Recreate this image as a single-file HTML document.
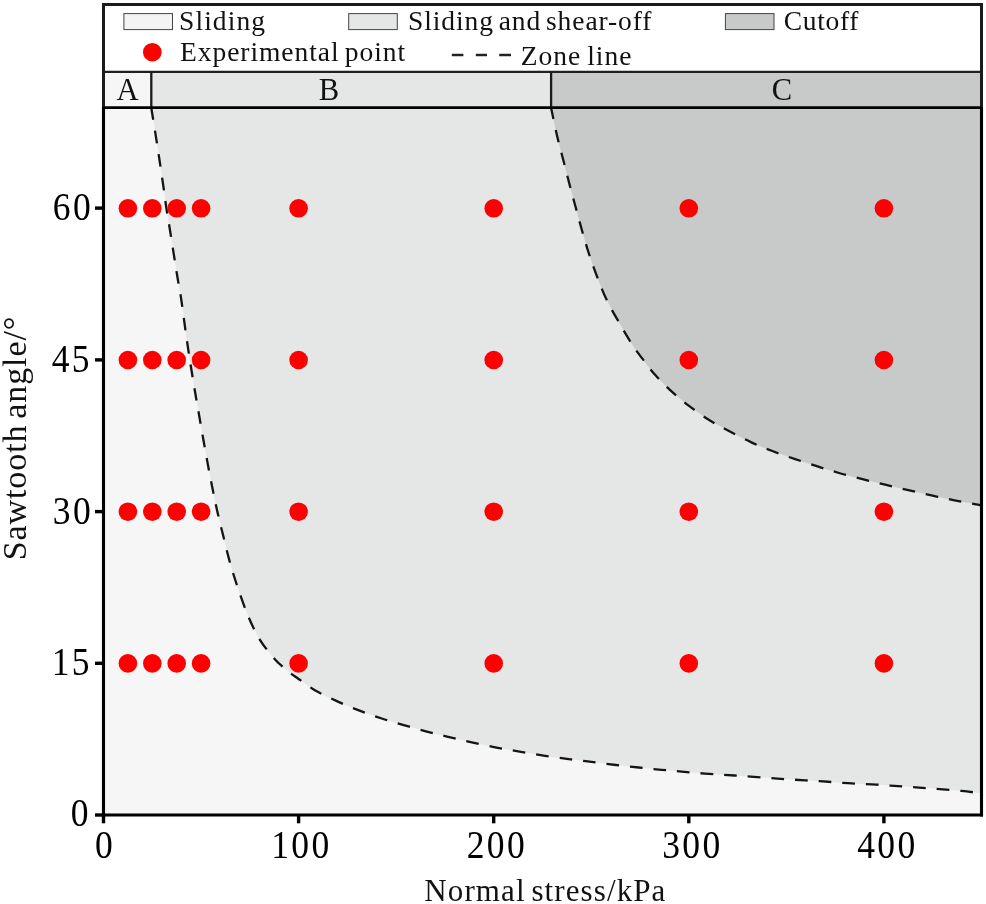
<!DOCTYPE html>
<html><head><meta charset="utf-8"><title>Shear failure mode zones</title>
<style>
html,body{margin:0;padding:0;background:#fff;}
body{width:986px;height:904px;overflow:hidden;}
svg{display:block;}
text{font-family:"Liberation Serif","Times New Roman",serif;fill:#111;}
.leg text{font-size:27.5px;letter-spacing:0.9px;}
.tick text{font-size:39.3px;letter-spacing:2.6px;fill:#000;}
</style></head><body>
<svg width="986" height="904" viewBox="0 0 986 904">
<rect x="0" y="0" width="986" height="904" fill="#fff"/>
<!-- zones -->
<rect x="103.5" y="71.5" width="878.0" height="743.5" fill="#f6f6f6"/>
<path d="M151.3,108.0 C152.3,114.0 155.0,130.8 157.1,144.2 C159.2,157.6 162.1,177.8 163.7,188.5 C165.2,199.2 165.3,201.0 166.4,208.4 C167.5,215.8 168.6,221.3 170.4,232.7 C172.2,244.1 175.6,265.9 177.4,277.0 C179.2,288.1 179.9,290.3 181.2,299.1 C182.5,307.9 184.0,319.7 185.4,329.8 C186.8,339.9 188.1,349.0 189.8,359.7 C191.5,370.4 193.6,383.5 195.4,394.0 C197.2,404.5 198.5,411.6 200.4,422.7 C202.3,433.8 205.1,449.5 207.1,460.4 C209.1,471.3 210.7,479.6 212.4,488.0 C214.1,496.4 215.4,503.1 217.2,511.0 C219.0,518.9 221.0,526.8 223.1,535.3 C225.2,543.8 227.3,553.0 229.8,561.9 C232.3,570.8 234.9,579.2 238.0,588.4 C241.1,597.6 245.0,608.7 248.6,617.2 C252.2,625.7 255.6,632.7 259.6,639.3 C263.7,645.9 268.8,652.2 272.9,657.0 C277.0,661.8 280.0,664.5 284.0,668.0 C288.0,671.5 291.8,674.1 297.0,677.8 C302.2,681.5 308.6,686.5 315.3,690.4 C322.0,694.3 330.0,698.0 337.4,701.4 C344.8,704.8 352.2,707.9 359.6,710.7 C367.0,713.6 374.3,716.1 381.7,718.5 C389.1,720.9 396.4,723.0 403.8,725.1 C411.2,727.2 418.7,729.4 425.9,731.3 C433.1,733.2 439.9,734.9 447.0,736.6 C454.1,738.3 460.6,740.0 468.4,741.7 C476.2,743.5 485.5,745.5 494.0,747.1 C502.5,748.8 511.0,750.1 519.5,751.6 C528.0,753.1 536.6,754.6 545.1,755.9 C553.6,757.2 562.6,758.3 570.6,759.3 C578.6,760.3 585.8,761.1 593.4,762.1 C601.0,763.1 608.5,764.1 616.1,765.0 C623.7,765.9 631.2,766.7 638.8,767.5 C646.4,768.3 653.9,769.1 661.5,769.8 C669.1,770.5 676.3,771.1 684.2,771.8 C692.1,772.5 700.6,773.3 709.0,773.9 C717.4,774.5 725.4,774.9 734.4,775.5 C743.4,776.1 753.3,776.8 762.8,777.5 C772.3,778.2 781.7,778.9 791.2,779.5 C800.7,780.1 810.1,780.6 819.6,781.2 C829.1,781.8 838.5,782.6 848.0,783.2 C857.5,783.8 866.9,784.0 876.4,784.6 C885.9,785.2 895.3,785.9 904.8,786.6 C914.3,787.3 923.7,787.9 933.2,788.6 C942.7,789.3 953.6,790.1 961.6,790.9 C969.6,791.7 978.2,793.0 981.5,793.4 L981.5,71.5 L151.5,71.5 Z" fill="#e5e7e6"/>
<path d="M551.0,107.5 C552.0,112.2 555.0,126.7 557.0,135.4 C559.0,144.1 561.1,151.6 563.2,159.7 C565.3,167.8 567.4,176.2 569.4,184.0 C571.4,191.8 573.3,198.4 575.4,206.2 C577.5,213.9 579.8,222.8 582.0,230.5 C584.2,238.2 586.2,245.3 588.6,252.7 C591.0,260.1 593.5,267.1 596.4,274.8 C599.3,282.5 602.6,291.2 606.3,299.1 C610.0,307.0 614.5,314.5 618.8,322.0 C623.1,329.5 628.2,338.2 632.0,344.2 C635.8,350.2 638.0,352.9 641.8,357.9 C645.6,362.9 649.7,368.8 654.6,374.3 C659.5,379.8 665.3,385.6 671.0,390.8 C676.7,396.0 682.4,400.8 688.7,405.6 C695.0,410.4 702.3,415.7 708.8,419.8 C715.3,423.9 720.6,426.5 727.5,430.2 C734.4,433.9 742.9,438.4 750.4,441.9 C757.9,445.4 764.9,448.2 772.3,451.0 C779.6,453.8 787.1,456.4 794.5,458.9 C801.9,461.4 809.4,463.8 816.8,466.2 C824.2,468.6 831.4,470.8 839.0,473.0 C846.6,475.2 854.8,477.2 862.5,479.2 C870.2,481.1 877.6,482.9 885.2,484.7 C892.8,486.5 900.6,488.3 908.3,490.1 C916.0,491.9 923.8,493.7 931.5,495.4 C939.2,497.1 947.1,498.8 954.5,500.3 C961.9,501.8 971.6,503.5 976.1,504.4 C980.6,505.2 980.6,505.2 981.5,505.4 L981.5,71.5 L551,71.5 Z" fill="#c8cac9"/>
<!-- legend bg -->
<rect x="103.5" y="4.5" width="878.0" height="67" fill="#fff"/>
<!-- zone curves -->
<g fill="none" stroke="#141414" stroke-width="2.3" stroke-dasharray="12.7 10.96">
<path d="M151.3,108.0 C152.3,114.0 155.0,130.8 157.1,144.2 C159.2,157.6 162.1,177.8 163.7,188.5 C165.2,199.2 165.3,201.0 166.4,208.4 C167.5,215.8 168.6,221.3 170.4,232.7 C172.2,244.1 175.6,265.9 177.4,277.0 C179.2,288.1 179.9,290.3 181.2,299.1 C182.5,307.9 184.0,319.7 185.4,329.8 C186.8,339.9 188.1,349.0 189.8,359.7 C191.5,370.4 193.6,383.5 195.4,394.0 C197.2,404.5 198.5,411.6 200.4,422.7 C202.3,433.8 205.1,449.5 207.1,460.4 C209.1,471.3 210.7,479.6 212.4,488.0 C214.1,496.4 215.4,503.1 217.2,511.0 C219.0,518.9 221.0,526.8 223.1,535.3 C225.2,543.8 227.3,553.0 229.8,561.9 C232.3,570.8 234.9,579.2 238.0,588.4 C241.1,597.6 245.0,608.7 248.6,617.2 C252.2,625.7 255.6,632.7 259.6,639.3 C263.7,645.9 268.8,652.2 272.9,657.0 C277.0,661.8 280.0,664.5 284.0,668.0 C288.0,671.5 291.8,674.1 297.0,677.8 C302.2,681.5 308.6,686.5 315.3,690.4 C322.0,694.3 330.0,698.0 337.4,701.4 C344.8,704.8 352.2,707.9 359.6,710.7 C367.0,713.6 374.3,716.1 381.7,718.5 C389.1,720.9 396.4,723.0 403.8,725.1 C411.2,727.2 418.7,729.4 425.9,731.3 C433.1,733.2 439.9,734.9 447.0,736.6 C454.1,738.3 460.6,740.0 468.4,741.7 C476.2,743.5 485.5,745.5 494.0,747.1 C502.5,748.8 511.0,750.1 519.5,751.6 C528.0,753.1 536.6,754.6 545.1,755.9 C553.6,757.2 562.6,758.3 570.6,759.3 C578.6,760.3 585.8,761.1 593.4,762.1 C601.0,763.1 608.5,764.1 616.1,765.0 C623.7,765.9 631.2,766.7 638.8,767.5 C646.4,768.3 653.9,769.1 661.5,769.8 C669.1,770.5 676.3,771.1 684.2,771.8 C692.1,772.5 700.6,773.3 709.0,773.9 C717.4,774.5 725.4,774.9 734.4,775.5 C743.4,776.1 753.3,776.8 762.8,777.5 C772.3,778.2 781.7,778.9 791.2,779.5 C800.7,780.1 810.1,780.6 819.6,781.2 C829.1,781.8 838.5,782.6 848.0,783.2 C857.5,783.8 866.9,784.0 876.4,784.6 C885.9,785.2 895.3,785.9 904.8,786.6 C914.3,787.3 923.7,787.9 933.2,788.6 C942.7,789.3 953.6,790.1 961.6,790.9 C969.6,791.7 978.2,793.0 981.5,793.4" stroke-dashoffset="0.6"/>
<path d="M551.0,107.5 C552.0,112.2 555.0,126.7 557.0,135.4 C559.0,144.1 561.1,151.6 563.2,159.7 C565.3,167.8 567.4,176.2 569.4,184.0 C571.4,191.8 573.3,198.4 575.4,206.2 C577.5,213.9 579.8,222.8 582.0,230.5 C584.2,238.2 586.2,245.3 588.6,252.7 C591.0,260.1 593.5,267.1 596.4,274.8 C599.3,282.5 602.6,291.2 606.3,299.1 C610.0,307.0 614.5,314.5 618.8,322.0 C623.1,329.5 628.2,338.2 632.0,344.2 C635.8,350.2 638.0,352.9 641.8,357.9 C645.6,362.9 649.7,368.8 654.6,374.3 C659.5,379.8 665.3,385.6 671.0,390.8 C676.7,396.0 682.4,400.8 688.7,405.6 C695.0,410.4 702.3,415.7 708.8,419.8 C715.3,423.9 720.6,426.5 727.5,430.2 C734.4,433.9 742.9,438.4 750.4,441.9 C757.9,445.4 764.9,448.2 772.3,451.0 C779.6,453.8 787.1,456.4 794.5,458.9 C801.9,461.4 809.4,463.8 816.8,466.2 C824.2,468.6 831.4,470.8 839.0,473.0 C846.6,475.2 854.8,477.2 862.5,479.2 C870.2,481.1 877.6,482.9 885.2,484.7 C892.8,486.5 900.6,488.3 908.3,490.1 C916.0,491.9 923.8,493.7 931.5,495.4 C939.2,497.1 947.1,498.8 954.5,500.3 C961.9,501.8 971.6,503.5 976.1,504.4 C980.6,505.2 980.6,505.2 981.5,505.4" stroke-dashoffset="0.9"/>
</g>
<!-- frame -->
<g stroke="#1a1a1a" fill="none">
<line x1="103.5" y1="71.8" x2="981.5" y2="71.8" stroke-width="2.3" stroke="#231f1f"/>
<line x1="151.3" y1="71.8" x2="151.3" y2="107.5" stroke-width="2.3"/>
<line x1="551.1" y1="71.8" x2="551.1" y2="107.5" stroke-width="2.3"/>
</g>
<g stroke="#000" fill="none" stroke-width="3">
<path d="M103.5,816.5 V4.5 H981.5 V816.5" stroke="#1c1a1a" stroke-width="3"/><path d="M103.5,107 V815.0 H981.5 V107" stroke="#000" stroke-width="3.1" stroke-linejoin="miter"/>
<line x1="103.5" y1="107.6" x2="981.5" y2="107.6" stroke-width="2.7"/>
<g stroke-width="3.4"><line x1="103.5" y1="815" x2="103.5" y2="823.3"/><line x1="298.6" y1="815" x2="298.6" y2="823.3"/><line x1="493.7" y1="815" x2="493.7" y2="823.3"/><line x1="688.8" y1="815" x2="688.8" y2="823.3"/><line x1="883.9" y1="815" x2="883.9" y2="823.3"/><line x1="95" y1="815.0" x2="103.5" y2="815.0"/><line x1="95" y1="663.3" x2="103.5" y2="663.3"/><line x1="95" y1="511.6" x2="103.5" y2="511.6"/><line x1="95" y1="359.9" x2="103.5" y2="359.9"/><line x1="95" y1="208.1" x2="103.5" y2="208.1"/></g>
</g>
<!-- points -->
<g fill="#fe0000"><circle cx="127.9" cy="663.4" r="9.3"/><circle cx="152.3" cy="663.4" r="9.3"/><circle cx="176.7" cy="663.4" r="9.3"/><circle cx="201.1" cy="663.4" r="9.3"/><circle cx="298.6" cy="663.4" r="9.3"/><circle cx="493.7" cy="663.4" r="9.3"/><circle cx="688.8" cy="663.4" r="9.3"/><circle cx="883.9" cy="663.4" r="9.3"/><circle cx="127.9" cy="511.7" r="9.3"/><circle cx="152.3" cy="511.7" r="9.3"/><circle cx="176.7" cy="511.7" r="9.3"/><circle cx="201.1" cy="511.7" r="9.3"/><circle cx="298.6" cy="511.7" r="9.3"/><circle cx="493.7" cy="511.7" r="9.3"/><circle cx="688.8" cy="511.7" r="9.3"/><circle cx="883.9" cy="511.7" r="9.3"/><circle cx="127.9" cy="360.0" r="9.3"/><circle cx="152.3" cy="360.0" r="9.3"/><circle cx="176.7" cy="360.0" r="9.3"/><circle cx="201.1" cy="360.0" r="9.3"/><circle cx="298.6" cy="360.0" r="9.3"/><circle cx="493.7" cy="360.0" r="9.3"/><circle cx="688.8" cy="360.0" r="9.3"/><circle cx="883.9" cy="360.0" r="9.3"/><circle cx="127.9" cy="208.3" r="9.3"/><circle cx="152.3" cy="208.3" r="9.3"/><circle cx="176.7" cy="208.3" r="9.3"/><circle cx="201.1" cy="208.3" r="9.3"/><circle cx="298.6" cy="208.3" r="9.3"/><circle cx="493.7" cy="208.3" r="9.3"/><circle cx="688.8" cy="208.3" r="9.3"/><circle cx="883.9" cy="208.3" r="9.3"/><circle cx="152.3" cy="52.2" r="9.3"/></g>
<!-- legend -->
<g class="leg">
<rect x="123.9" y="13.6" width="48.6" height="16" fill="#f4f4f4" stroke="#444" stroke-width="1"/>
<rect x="348.7" y="13.6" width="48.6" height="16" fill="#e5e7e6" stroke="#444" stroke-width="1"/>
<rect x="725.4" y="13.6" width="48.6" height="16" fill="#c8cac9" stroke="#444" stroke-width="1"/>
<text x="179" y="30.4" style="letter-spacing:1.1px">Sliding</text>
<text x="408" y="30.4" style="letter-spacing:0.92px;word-spacing:-3px">Sliding and shear-off</text>
<text x="783.7" y="30.4" style="letter-spacing:0.7px">Cutoff</text>
<text x="180" y="61.1" style="letter-spacing:0.95px;word-spacing:-2.5px">Experimental point</text>
<g stroke="#222" stroke-width="2.5"><line x1="451.8" y1="55" x2="463.4" y2="55"/><line x1="475.8" y1="55" x2="487" y2="55"/><line x1="499.2" y1="55" x2="511" y2="55"/></g>
<text x="520.8" y="65.2" style="letter-spacing:1.0px;word-spacing:-2px">Zone line</text>
<text x="127.6" y="100.4" text-anchor="middle" style="letter-spacing:0;font-size:30.6px">A</text>
<text x="329" y="100.4" text-anchor="middle" style="letter-spacing:0;font-size:30.6px">B</text>
<text x="782" y="100.4" text-anchor="middle" style="letter-spacing:0;font-size:30.6px">C</text>
</g>
<!-- tick labels -->
<g class="tick"><text transform="translate(115.0,857.8) scale(0.904,1)" text-anchor="end">0</text><text transform="translate(331.6,857.8) scale(0.904,1)" text-anchor="end">100</text><text transform="translate(527.1,857.8) scale(0.904,1)" text-anchor="end">200</text><text transform="translate(722.5,857.8) scale(0.904,1)" text-anchor="end">300</text><text transform="translate(917.5,857.8) scale(0.904,1)" text-anchor="end">400</text><text transform="translate(90.8,826.4) scale(0.904,1)" text-anchor="end">0</text><text transform="translate(91.9,675.3) scale(0.904,1)" text-anchor="end">15</text><text transform="translate(93.0,523.6) scale(0.904,1)" text-anchor="end">30</text><text transform="translate(91.9,371.9) scale(0.904,1)" text-anchor="end">45</text><text transform="translate(93.0,220.1) scale(0.904,1)" text-anchor="end">60</text></g>
<!-- axis titles -->
<text x="545.4" y="900.8" text-anchor="middle" font-size="31" style="letter-spacing:1.1px;word-spacing:-3px">Normal stress/kPa</text>
<text transform="translate(25.6,438) rotate(-90)" text-anchor="middle" font-size="34" style="letter-spacing:0.9px;word-spacing:-3.5px">Sawtooth angle/°</text>
</svg>
</body></html>
